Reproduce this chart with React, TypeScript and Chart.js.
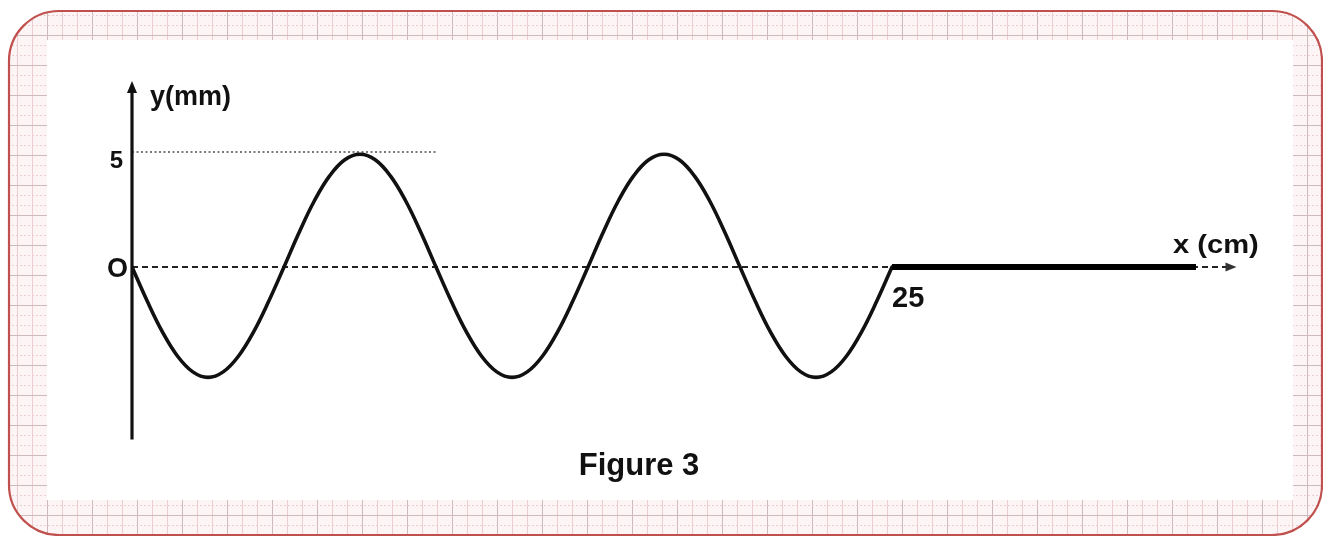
import React, { useEffect, useRef } from "react";
import { Chart, registerables } from "chart.js";

Chart.register(...registerables);

// Wave y(mm) against x(cm)
const waveX = [
  0, 0.5, 1, 1.5, 2, 2.5, 3, 3.5, 4, 4.5, 5, 5.5, 6, 6.5, 7, 7.5, 8, 8.5, 9, 9.5,
  10, 10.5, 11, 11.5, 12, 12.5, 13, 13.5, 14, 14.5, 15, 15.5, 16, 16.5, 17, 17.5,
  18, 18.5, 19, 19.5, 20, 20.5, 21, 21.5, 22, 22.5, 23, 23.5, 24, 24.5, 25,
];
const waveY = [
  0, -1.48, -2.82, -3.88, -4.56, -4.8, -4.56, -3.88, -2.82, -1.48,
  0, 1.51, 2.88, 3.96, 4.66, 4.9, 4.66, 3.96, 2.88, 1.51,
  0, -1.48, -2.82, -3.88, -4.56, -4.8, -4.56, -3.88, -2.82, -1.48,
  0, 1.51, 2.88, 3.96, 4.66, 4.9, 4.66, 3.96, 2.88, 1.51,
  0, -1.48, -2.82, -3.88, -4.56, -4.8, -4.56, -3.88, -2.82, -1.48,
  0,
];
// Undisturbed part of the string
const restX = [25, 35];
const restY = [0, 0];
// x axis (dashed) and y = 5 reference line (dotted)
const axisX = [0, 36.2];
const axisY = [0, 0];
const refX = [0, 10];
const refY = [5, 5];

const yTickValues = [5, 0];
const yTickLabels = ["5", "O"];
const xTickValue = 25;
const xTickLabel = "25";
const xTitle = "x (cm)";
const yTitle = "y(mm)";
const caption = "Figure 3";

const X_MIN = 0;
const X_MAX = 36.5;
const Y_MIN = -7.5;
const Y_MAX = 8;

const FONT = '"Liberation Sans", Arial, sans-serif';

const pts = (xs: number[], ys: number[]) => xs.map((x, i) => ({ x, y: ys[i] }));

function roundRectPath(ctx: CanvasRenderingContext2D, x: number, y: number, w: number, h: number, r: number) {
  ctx.beginPath();
  ctx.moveTo(x + r, y);
  ctx.lineTo(x + w - r, y);
  ctx.arcTo(x + w, y, x + w, y + r, r);
  ctx.lineTo(x + w, y + h - r);
  ctx.arcTo(x + w, y + h, x + w - r, y + h, r);
  ctx.lineTo(x + r, y + h);
  ctx.arcTo(x, y + h, x, y + h - r, r);
  ctx.lineTo(x, y + r);
  ctx.arcTo(x, y, x + r, y, r);
  ctx.closePath();
}

const framePlugin = {
  id: "frame",
  beforeDraw(chart: any) {
    const ctx: CanvasRenderingContext2D = chart.ctx;
    const W = chart.width;
    const H = chart.height;
    ctx.save();
    ctx.fillStyle = "#ffffff";
    ctx.fillRect(0, 0, W, H);
    const fx = 9, fy = 11, fw = 1313, fh = 524, fr = 50;
    roundRectPath(ctx, fx, fy, fw, fh, fr);
    ctx.save();
    ctx.clip();
    ctx.fillStyle = "#fdf4f5";
    ctx.fillRect(0, 0, W, H);
    // graph-paper pattern
    for (let x = 2; x < W; x += 5) {
      const k = Math.round((x - 2) / 5);
      ctx.beginPath();
      if (k % 9 === 0) {
        ctx.strokeStyle = "#cdbabd";
        ctx.setLineDash([]);
      } else if (k % 3 === 0) {
        ctx.strokeStyle = "#ebcdd2";
        ctx.setLineDash([]);
      } else {
        continue;
      }
      ctx.lineWidth = 1;
      ctx.moveTo(x + 0.5, 0);
      ctx.lineTo(x + 0.5, H);
      ctx.stroke();
    }
    for (let y = 5; y < H; y += 5) {
      const k = Math.round((y - 5) / 5);
      ctx.beginPath();
      if (k % 6 === 0) {
        ctx.strokeStyle = "#cdbabd";
        ctx.setLineDash([]);
      } else if (k % 2 === 0) {
        ctx.strokeStyle = "#ebcdd2";
        ctx.setLineDash([2, 2]);
      } else {
        continue;
      }
      ctx.lineWidth = 1;
      ctx.moveTo(0, y + 0.5);
      ctx.lineTo(W, y + 0.5);
      ctx.stroke();
    }
    ctx.setLineDash([]);
    ctx.restore();
    // inner white panel
    ctx.fillStyle = "#ffffff";
    ctx.fillRect(47, 40, 1246, 460);
    // red rounded border
    roundRectPath(ctx, fx, fy, fw, fh, fr);
    ctx.strokeStyle = "#c0504d";
    ctx.lineWidth = 2.2;
    ctx.stroke();
    ctx.restore();
  },
};

const axesPlugin = {
  id: "axesDeco",
  afterDatasetsDraw(chart: any) {
    const ctx: CanvasRenderingContext2D = chart.ctx;
    const xs = chart.scales.x;
    const ys = chart.scales.y;
    const x0 = xs.getPixelForValue(0);
    const y0 = ys.getPixelForValue(0);
    const top = chart.chartArea.top;
    const bottom = chart.chartArea.bottom;
    ctx.save();
    // y axis
    ctx.strokeStyle = "#111111";
    ctx.lineWidth = 3.2;
    ctx.beginPath();
    ctx.moveTo(x0, bottom);
    ctx.lineTo(x0, top + 8);
    ctx.stroke();
    ctx.fillStyle = "#111111";
    ctx.beginPath();
    ctx.moveTo(x0, top - 2);
    ctx.lineTo(x0 - 5, top + 10);
    ctx.lineTo(x0 + 5, top + 10);
    ctx.closePath();
    ctx.fill();
    // x axis arrow head
    const xe = xs.getPixelForValue(axisX[axisX.length - 1]);
    ctx.fillStyle = "#333333";
    ctx.beginPath();
    ctx.moveTo(xe + 4, y0);
    ctx.lineTo(xe - 7, y0 - 4.5);
    ctx.lineTo(xe - 7, y0 + 4.5);
    ctx.closePath();
    ctx.fill();

    // texts
    ctx.fillStyle = "#111111";
    ctx.textBaseline = "alphabetic";
    ctx.textAlign = "left";
    ctx.font = `bold 27px ${FONT}`;
    ctx.fillText(yTitle, x0 + 18, top + 22);

    ctx.font = `bold 24px ${FONT}`;
    ctx.textAlign = "right";
    ctx.fillText(yTickLabels[0], x0 - 9, ys.getPixelForValue(yTickValues[0]) + 16);
    ctx.font = `bold 27px ${FONT}`;
    ctx.fillText(yTickLabels[1], x0 - 4, ys.getPixelForValue(yTickValues[1]) + 10);

    ctx.textAlign = "left";
    ctx.font = `bold 29px ${FONT}`;
    ctx.fillText(xTickLabel, xs.getPixelForValue(xTickValue), y0 + 40);

    ctx.font = `bold 26px ${FONT}`;
    ctx.save();
    ctx.translate(1173, y0 - 14);
    ctx.scale(1.12, 1);
    ctx.fillText(xTitle, 0, 0);
    ctx.restore();

    ctx.font = `bold 31px ${FONT}`;
    ctx.textAlign = "center";
    ctx.fillText(caption, 639, 475);
    ctx.restore();
  },
};

export default function App() {
  const canvasRef = useRef<HTMLCanvasElement | null>(null);

  useEffect(() => {
    const canvas = canvasRef.current;
    if (!canvas) return;
    const chart = new Chart(canvas, {
      type: "line",
      data: {
        datasets: [
          {
            label: "axis",
            data: pts(axisX, axisY),
            borderColor: "#222222",
            borderWidth: 1.8,
            borderDash: [6, 4],
            pointRadius: 0,
            tension: 0,
            order: 3,
          },
          {
            label: "ref",
            data: pts(refX, refY),
            borderColor: "#7a7a7a",
            borderWidth: 2,
            borderDash: [2, 2.5],
            pointRadius: 0,
            tension: 0,
            order: 2,
          },
          {
            label: "wave",
            data: pts(waveX, waveY),
            borderColor: "#111111",
            borderWidth: 3.6,
            pointRadius: 0,
            tension: 0.4,
            borderCapStyle: "round",
            borderJoinStyle: "round",
            order: 1,
          },
          {
            label: "rest",
            data: pts(restX, restY),
            borderColor: "#000000",
            borderWidth: 6,
            pointRadius: 0,
            tension: 0,
            order: 0,
          },
        ],
      },
      options: {
        responsive: false,
        devicePixelRatio: 1,
        animation: false,
        parsing: true,
        layout: { padding: { left: 132, right: 81.4, top: 83, bottom: 96.5 } },
        plugins: {
          legend: { display: false },
          tooltip: { enabled: false },
          title: { display: false },
        },
        scales: {
          x: { type: "linear", min: X_MIN, max: X_MAX, display: false },
          y: { type: "linear", min: Y_MIN, max: Y_MAX, display: false },
        },
      },
      plugins: [framePlugin, axesPlugin],
    } as any);
    return () => chart.destroy();
  }, []);

  return (
    <div style={{ position: "fixed", left: 0, top: 0, width: 1323, height: 536 }}>
      <canvas ref={canvasRef} width={1323} height={536} style={{ display: "block" }} />
    </div>
  );
}
